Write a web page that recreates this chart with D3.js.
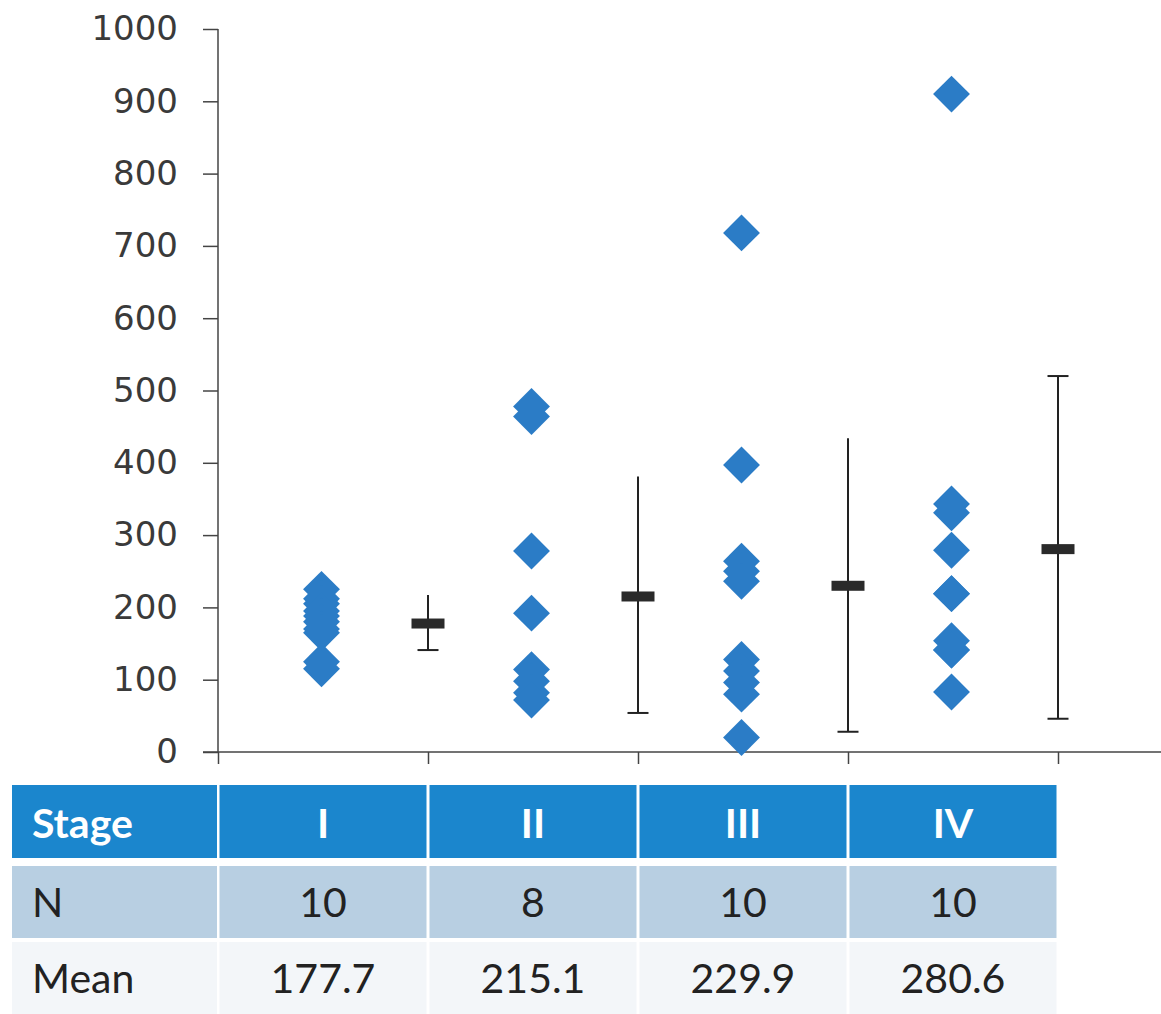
<!DOCTYPE html>
<html>
<head>
<meta charset="utf-8">
<script src="https://cdn.jsdelivr.net/npm/d3@7"></script>
<style>
  body { margin: 0; background: #fff; }
  svg { display: block; }
</style>
</head>
<body>
<svg width="1161" height="1014"></svg>
<script>
const stages = ["I", "II", "III", "IV"];
const stageI = [225, 212, 205, 195, 188, 180, 170, 165, 125, 115];
const stageII = [478, 464, 278, 192, 114, 98, 82, 72];
const stageIII = [718, 397, 264, 250, 236, 128, 112, 96, 80, 20];
const stageIV = [910, 343, 331, 279, 219, 219, 154, 141, 141, 83];
const counts = [10, 8, 10, 10];
const means = [177.7, 215.1, 229.9, 280.6];
const errLow = [141, 54, 28, 46];
const errHigh = [217, 381, 434, 520];
const topCap = [false, false, false, true]; // only stage IV shows a top cap
const yTicks = [0, 100, 200, 300, 400, 500, 600, 700, 800, 900, 1000];
const xTicks = [0, 2, 4, 6, 8];

const groups = [stageI, stageII, stageIII, stageIV];

var svg = d3.select("svg");

// x is a running slot index: dots at 1,3,5,7 and mean bars at 2,4,6,8
var x = d3.scaleLinear().domain([0, 9]).range([218, 1163]);
var y = d3.scaleLinear().domain([0, 1000]).range([752, 29]);

// y axis
var yAxis = svg.append("g")
  .attr("transform", "translate(" + x(0) + ",0)")
  .call(d3.axisLeft(y).tickValues(yTicks).tickFormat(d3.format("d")).tickSize(15).tickPadding(25));
yAxis.selectAll("text")
  .attr("font-family", "DejaVu Sans")
  .attr("font-size", 34)
  .attr("fill", "#3a3a3a");
yAxis.selectAll("line, path").attr("stroke", "#444").attr("stroke-width", 1.5);
yAxis.select(".domain").attr("d", "M0," + y(1000) + "V" + y(0));

// x axis (no labels, ticks pointing down)
var xAxis = svg.append("g")
  .attr("transform", "translate(0," + y(0) + ")")
  .call(d3.axisBottom(x).tickValues(xTicks).tickSize(12).tickFormat(""));
xAxis.selectAll("line, path").attr("stroke", "#444").attr("stroke-width", 1.5);
xAxis.select(".domain").attr("d", "M203,0H1161");

// diamonds
var diamond = d3.symbol().type(d3.symbolSquare).size(680);
groups.forEach(function (vals, i) {
  svg.append("g")
    .selectAll("path")
    .data(vals)
    .enter()
    .append("path")
    .attr("d", diamond)
    .attr("fill", "#2b7cc6")
    .attr("transform", function (d) {
      return "translate(" + (x(2 * i + 1) - 1.5) + "," + y(d) + ") rotate(45)";
    });
});

// mean + error bars
var bars = svg.append("g")
  .selectAll("g")
  .data(stages)
  .enter()
  .append("g");

bars.append("line")
  .attr("x1", (d, i) => x(2 * i + 2))
  .attr("x2", (d, i) => x(2 * i + 2))
  .attr("y1", (d, i) => y(errLow[i]))
  .attr("y2", (d, i) => y(errHigh[i]))
  .attr("stroke", "#222")
  .attr("stroke-width", 2);

bars.append("line")
  .attr("x1", (d, i) => x(2 * i + 2) - 10.5)
  .attr("x2", (d, i) => x(2 * i + 2) + 10.5)
  .attr("y1", (d, i) => y(errLow[i]))
  .attr("y2", (d, i) => y(errLow[i]))
  .attr("stroke", "#222")
  .attr("stroke-width", 2);

bars.filter((d, i) => topCap[i])
  .append("line")
  .attr("x1", function (d) { return x(2 * stages.indexOf(d) + 2) - 10.5; })
  .attr("x2", function (d) { return x(2 * stages.indexOf(d) + 2) + 10.5; })
  .attr("y1", function (d) { return y(errHigh[stages.indexOf(d)]); })
  .attr("y2", function (d) { return y(errHigh[stages.indexOf(d)]); })
  .attr("stroke", "#222")
  .attr("stroke-width", 2);

bars.append("rect")
  .attr("x", (d, i) => x(2 * i + 2) - 16.5)
  .attr("y", (d, i) => y(means[i]) - 5)
  .attr("width", 33)
  .attr("height", 10)
  .attr("fill", "#2a2a2a");

// table under the chart
var rows = [
  { label: "Stage", cells: stages, top: 785, bottom: 858, fill: "#1b86cd", color: "#fff", weight: "bold", base: 838 },
  { label: "N", cells: counts.map(String), top: 866, bottom: 938, fill: "#b8cfe2", color: "#222", weight: "normal", base: 917 },
  { label: "Mean", cells: means.map(d3.format(".1f")), top: 942, bottom: 1014, fill: "#f3f6f9", color: "#222", weight: "normal", base: 993 }
];

var table = svg.append("g");
rows.forEach(function (r) {
  var g = table.append("g");
  g.append("rect")
    .attr("x", 12).attr("y", r.top)
    .attr("width", x(0) - 12 - 1).attr("height", r.bottom - r.top)
    .attr("fill", r.fill);
  g.append("text")
    .attr("x", 32).attr("y", r.base)
    .attr("font-family", "Lato").attr("font-size", 41)
    .attr("font-weight", r.weight).attr("fill", r.color)
    .text(r.label);
  r.cells.forEach(function (c, i) {
    g.append("rect")
      .attr("x", x(2 * i) + 1.5).attr("y", r.top)
      .attr("width", x(2 * i + 2) - x(2 * i) - 3).attr("height", r.bottom - r.top)
      .attr("fill", r.fill);
    g.append("text")
      .attr("x", x(2 * i + 1)).attr("y", r.base)
      .attr("text-anchor", "middle")
      .attr("font-family", "Lato").attr("font-size", 41)
      .attr("font-weight", r.weight).attr("fill", r.color)
      .text(c);
  });
});
</script>
</body>
</html>
